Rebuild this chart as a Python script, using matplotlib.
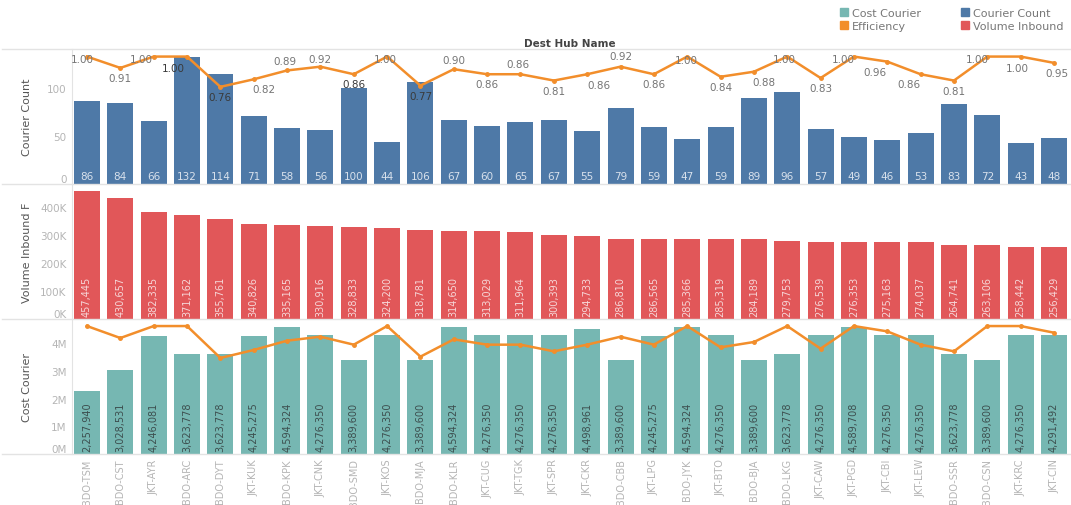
import numpy as np
import matplotlib.pyplot as plt
from matplotlib.patches import Patch
from matplotlib.lines import Line2D

hubs = ["BDO-TSM", "BDO-CST", "JKT-AYR", "BDO-ARC", "BDO-DYT", "JKT-KUK", "BDO-KPK",
        "JKT-CNK", "BDO-SMD", "JKT-KOS", "BDO-MJA", "BDO-KLR", "JKT-CUG", "JKT-TGK",
        "JKT-SPR", "JKT-CKR", "BDO-CBB", "JKT-LPG", "BDO-JYK", "JKT-BTO", "BDO-BJA",
        "BDO-LKG", "JKT-CAW", "JKT-PGD", "JKT-CBI", "JKT-LEW", "BDO-SSR", "BDO-CSN",
        "JKT-KRC", "JKT-CIN"]
courier_count = [86, 84, 66, 132, 114, 71, 58, 56, 100, 44, 106, 67, 60, 65, 67,
                 55, 79, 59, 47, 59, 89, 96, 57, 49, 46, 53, 83, 72, 43, 48]
volume_inbound = [457445, 430657, 382335, 371162, 355761, 340826, 335165, 330916,
                  328833, 324200, 318781, 314650, 313029, 311964, 300393, 294733,
                  286810, 286565, 285366, 285319, 284189, 279753, 276539, 276353,
                  275163, 274037, 264741, 263106, 258442, 256429]
cost_courier = [2257940, 3028531, 4246081, 3623778, 3623778, 4245275, 4594324, 4276350,
                3389600, 4276350, 3389600, 4594324, 4276350, 4276350, 4276350, 4498961,
                3389600, 4245275, 4594324, 4276350, 3389600, 3623778, 4276350, 4589708,
                4276350, 4276350, 3623778, 3389600, 4276350, 4291492]
efficiency = [1.00, 0.91, 1.00, 1.00, 0.76, 0.82, 0.89, 0.92, 0.86, 1.00, 0.77, 0.90,
              0.86, 0.86, 0.81, 0.86, 0.92, 0.86, 1.00, 0.84, 0.88, 1.00, 0.83, 1.00,
              0.96, 0.86, 0.81, 1.00, 1.00, 0.95]

# where each efficiency label sits relative to its point (pixels, y down)
eff_label_offsets = [(-5, 2), (0, 10), (-12, 2), (-14, 11), (0, 10), (10, 10), (-2, -9),
                     (0, -8), (0, 10), (-2, 2), (0, 10), (0, -9), (0, 10), (-3, -10),
                     (0, 10), (12, 11), (0, -11), (0, 10), (-1, 3), (0, 10), (10, 10),
                     (-3, 2), (0, 10), (-11, 2), (-12, 10), (-12, 10), (0, 10), (-10, 2),
                     (-3, 11), (3, 10)]
# labels that land on top of a bar get a darker tone
dark_labels = {3, 4, 8, 10}

BLUE = "#4e79a7"
RED = "#e15759"
TEAL = "#76b7b2"
ORANGE = "#f28e2b"
TICK = "#b5b5b5"
LINE = "#e3e3e3"

x = np.arange(len(hubs))
W, H = 1071, 506
fig = plt.figure(figsize=(W / 100, H / 100), dpi=100)

left, width = 72 / W, 997 / W
ax1 = fig.add_axes([left, (H - 185) / H, width, 135 / H])
ax2 = fig.add_axes([left, (H - 320) / H, width, 135 / H])
ax3 = fig.add_axes([left, (H - 455) / H, width, 135 / H])


def style(ax):
    for s in ["top", "right", "bottom"]:
        ax.spines[s].set_visible(False)
    ax.spines["left"].set_color(LINE)
    ax.tick_params(axis="y", length=0, colors=TICK, labelsize=7.5, pad=4)
    ax.tick_params(axis="x", length=0)
    ax.set_xlim(-0.45, len(hubs) - 0.55)


for ax in (ax1, ax2, ax3):
    style(ax)
    ax.set_xticks(x)
    ax.set_xticklabels([])

# Courier count
ax1.bar(x, courier_count, width=0.78, color=BLUE)
ax1.set_ylim(0, 140.5)
ax1.set_yticks([0, 50, 100])
for i, v in enumerate(courier_count):
    ax1.annotate(str(v), (i, 0), xytext=(0, 3), textcoords="offset pixels",
                 ha="center", va="bottom", fontsize=7.5, color="#d8e1ec")
ax1.set_ylabel("Courier Count", fontsize=8, color="#555555")

e1 = ax1.twinx()
e1.set_ylim(-0.01, 1.06)
e1.axis("off")
e1.plot(x, efficiency, color=ORANGE, lw=1.8, marker="o", ms=2.5)
for i, v in enumerate(efficiency):
    dx, dy = eff_label_offsets[i]
    e1.annotate(f"{v:.2f}", (i, v), xytext=(dx, -dy), textcoords="offset pixels",
                ha="center", va="center", fontsize=7.5,
                color="#3a3a3a" if i in dark_labels else "#757575")

# Volume inbound
ax2.bar(x, volume_inbound, width=0.78, color=RED)
ax2.set_ylim(0, 482000)
ax2.set_yticks(np.arange(0, 500000, 100000))
ax2.set_yticklabels([f"{int(t / 1000)}K" for t in np.arange(0, 500000, 100000)])
for i, v in enumerate(volume_inbound):
    ax2.annotate(f"{v:,}", (i, 0), xytext=(0, 3), textcoords="offset pixels",
                 ha="center", va="bottom", rotation=90, fontsize=7, color="#f6d6d7")
ax2.set_ylabel("Volume Inbound F", fontsize=8, color="#555555")

# Cost courier
ax3.bar(x, cost_courier, width=0.78, color=TEAL)
ax3.set_ylim(0, 4.87e6)
ax3.set_yticks(np.arange(0, 5e6, 1e6))
ax3.set_yticklabels([f"{int(t / 1e6)}M" for t in np.arange(0, 5e6, 1e6)])
for i, v in enumerate(cost_courier):
    ax3.annotate(f"{v:,}", (i, 0), xytext=(0, 3), textcoords="offset pixels",
                 ha="center", va="bottom", rotation=90, fontsize=7, color="#3d4f4f")
ax3.set_ylabel("Cost Courier", fontsize=8, color="#555555")

e3 = ax3.twinx()
e3.set_ylim(0.038, 1.053)
e3.axis("off")
e3.plot(x, efficiency, color=ORANGE, lw=1.8, marker="o", ms=2.5)

ax3.set_xticklabels(hubs, rotation=90, fontsize=7, color=TICK, va="top")
ax3.tick_params(axis="x", pad=3)

for ax in (ax1, ax2, ax3):
    ax.yaxis.set_label_coords(-40 / 997, 0.5)
    # zero label sits just above the baseline
    ax.get_yticklabels()[0].set_va("bottom")

# header and panel dividers
for y in (50, 185, 320, 455):
    fig.add_artist(Line2D([2 / W, 1], [(H - y) / H] * 2, color=LINE, lw=1))
fig.text(570 / W, (H - 44) / H, "Dest Hub Name", ha="center", va="center",
         fontsize=7.5, fontweight="bold", color="#444444")

handles = [Patch(color=TEAL, label="Cost Courier"), Patch(color=ORANGE, label="Efficiency"),
           Patch(color=BLUE, label="Courier Count"), Patch(color=RED, label="Volume Inbound")]
leg = fig.legend(handles=handles, ncol=2, loc="upper left",
                 bbox_to_anchor=(830 / W, 1 + 1 / H), frameon=False, fontsize=8,
                 handlelength=0.7, handleheight=0.7, handletextpad=0.4,
                 columnspacing=3.6, labelspacing=0.25)
for t in leg.get_texts():
    t.set_color("#777777")

fig.savefig("out.png", dpi=100)
